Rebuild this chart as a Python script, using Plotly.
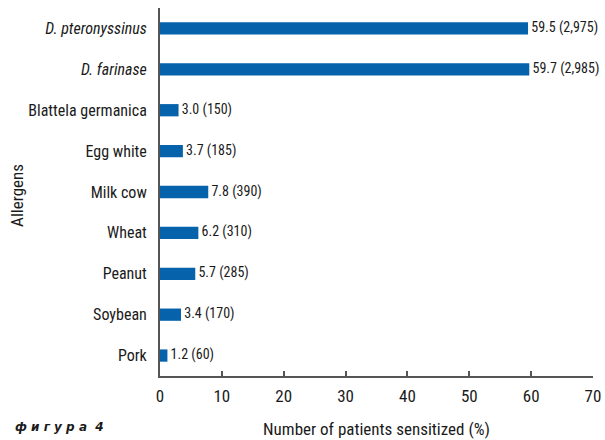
import plotly.graph_objects as go

allergens = ["<i>D. pteronyssinus</i>", "<i>D. farinase</i>", "Blattela germanica",
             "Egg white", "Milk cow", "Wheat", "Peanut", "Soybean", "Pork"]
percent = [59.5, 59.7, 3.0, 3.7, 7.8, 6.2, 5.7, 3.4, 1.2]
patients = [2975, 2985, 150, 185, 390, 310, 285, 170, 60]
x_ticks = [0, 10, 20, 30, 40, 50, 60, 70]

FONT = "Liberation Sans Narrow, Roboto Condensed, Arial Narrow, sans-serif"
BAR = "#0562ab"
INK = "#1a1a1a"

labels = [f" {p:.1f} ({n:,})" for p, n in zip(percent, patients)]

fig = go.Figure()
fig.add_trace(go.Bar(
    x=percent, y=allergens, orientation="h",
    marker=dict(color=BAR, line=dict(width=0)), width=0.3,
    hoverinfo="skip",
))
fig.add_trace(go.Scatter(
    x=percent, y=allergens, mode="text", text=labels,
    textposition="middle right", cliponaxis=False,
    textfont=dict(family=FONT, size=14, color=INK),
    hoverinfo="skip",
))

fig.update_layout(
    width=605, height=440,
    margin=dict(l=160, r=12, t=8, b=64),
    paper_bgcolor="white", plot_bgcolor="white",
    showlegend=False,
    font=dict(family=FONT, size=16, color=INK),
    xaxis=dict(
        range=[0, 70], tickvals=x_ticks, ticks="inside", ticklen=5,
        tickcolor="#555", tickwidth=1.5,
        showline=True, linecolor="#555", linewidth=2,
        showgrid=False, zeroline=False, ticklabelstandoff=4,
        automargin=False,
        tickfont=dict(family=FONT, size=17, color=INK),
        title=dict(text="Number of patients sensitized (%)", standoff=18,
                   font=dict(family=FONT, size=17, color=INK)),
    ),
    yaxis=dict(
        categoryorder="array", categoryarray=allergens[::-1],
        range=[-0.5, 8.5], showline=True, linecolor="#555", linewidth=2,
        showgrid=False, zeroline=False, ticks="", ticklabelstandoff=8,
        automargin=False,
        tickfont=dict(family=FONT, size=16, color=INK),
    ),
)

# y-axis title placed by hand at the far left edge
fig.add_annotation(
    text="Allergens", xref="paper", yref="paper", textangle=-90,
    x=-0.332, y=0.49, xanchor="center", yanchor="middle", showarrow=False,
    font=dict(family=FONT, size=17, color=INK),
)

fig.add_annotation(
    text="<b><i>ф и г у р а  4</i></b>", xref="paper", yref="paper",
    x=-0.232, y=-0.139, xanchor="center", yanchor="middle", showarrow=False,
    font=dict(family="DejaVu Sans, Arial, sans-serif", size=12, color=INK),
)

fig.write_html("out.html")
